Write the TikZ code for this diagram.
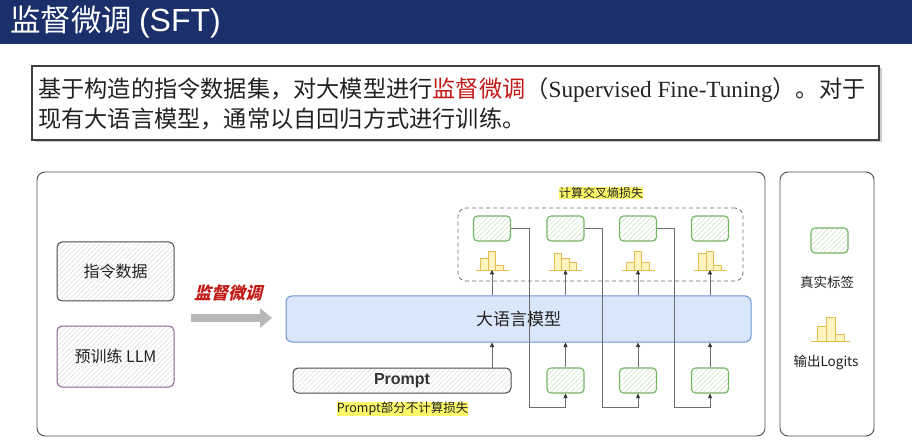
\documentclass[tikz,border=0pt]{standalone}
\usepackage{fontspec}
\setmainfont{Liberation Serif}
\newfontfamily\cjk{Noto Sans CJK SC}
\newfontfamily\cjkslant{Noto Sans CJK SC}[FakeSlant=0.25]
\newfontfamily\arialf{Liberation Sans}
\usetikzlibrary{patterns.meta,arrows.meta,shadows}
\definecolor{navy}{HTML}{1B2F6B}
\definecolor{grn}{HTML}{74B566}
\definecolor{grnhatch}{HTML}{C9DFC3}
\definecolor{hatchgray}{HTML}{DADADA}
\definecolor{purp}{HTML}{8B5E96}
\definecolor{llmfill}{HTML}{DAE7FB}
\definecolor{llmdraw}{HTML}{6E93D6}
\definecolor{yelfill}{HTML}{FFF3BF}
\definecolor{yeldraw}{HTML}{E3BE4E}
\definecolor{hl}{HTML}{FCF86A}
\definecolor{redtxt}{HTML}{C11B17}
\definecolor{wirec}{HTML}{6E6E6E}
\definecolor{txt}{HTML}{222222}
\tikzset{
  hatched/.style={pattern={Lines[angle=45,distance=3.5pt,line width=0.5pt]},pattern color=#1},
  sketchbox/.style={draw=#1,line width=1pt,rounded corners=5pt,inner sep=0pt},
  greenbox/.style={sketchbox=grn,line width=1.1pt,rounded corners=4pt,hatched=grnhatch,minimum width=37pt,minimum height=25pt},
  panel/.style={draw=black!70,line width=0.9pt,rounded corners=8pt,inner sep=0pt},
  wire/.style={draw=wirec,line width=0.7pt},
  wirearrow/.style={wire,-{Triangle[length=4.5pt,width=4pt,color=black!80]}},
  cjklabel/.style={font=\cjk\fontsize{#1}{#1}\selectfont,text=txt,inner sep=0pt},
  highlight/.style={fill=hl,inner sep=1.2pt},
  pics/histo/.style args={#1/#2/#3/#4}{code={
    \draw[draw=yeldraw,fill=yelfill,line width=0.8pt]
      (-1.5*#1,0) rectangle (-0.5*#1,-#2)
      (-0.5*#1,0) rectangle (0.5*#1,-#3)
      (0.5*#1,0) rectangle (1.5*#1,-#4);
    \draw[draw=yeldraw,line width=0.9pt] (-2.2*#1,0) -- (2.2*#1,0);
  }},
}
\begin{document}
\begin{tikzpicture}[x=1pt,y=-1pt]
\useasboundingbox (0,0) rectangle (912,443);
\fill[white] (0,0) rectangle (912,443);
% title bar
\fill[navy] (0,0) rectangle (912,44);
\node[anchor=west,text=white,font=\cjk\fontsize{30.5}{30.5}\selectfont,inner sep=0pt] (title) at (10,22) {监督微调 {\arialf\fontsize{32}{32}\selectfont(SFT)}};
% text box
\node[draw=black!75,line width=1.1pt,fill=white,minimum width=847pt,minimum height=74pt,inner sep=0pt,
      drop shadow={shadow xshift=2.5pt,shadow yshift=-2.5pt,opacity=0.4}] (textbox) at (455.5,103) {};
\node[anchor=west,inner sep=0pt,text=txt,font=\fontsize{23.2}{23.2}\selectfont] (line1) at (38,90)
  {{\cjk 基于构造的指令数据集，对大模型进行}{\cjk\color{redtxt}监督微调}{\cjk （}Supervised\ Fine-Tuning{\cjk ）。对于}};
\node[anchor=west,inner sep=0pt,text=txt,font=\cjk\fontsize{23.2}{23.2}\selectfont] (line2) at (38,119)
  {现有大语言模型，通常以自回归方式进行训练。};
% panels
\node[panel,minimum width=728pt,minimum height=264pt] (outer) at (401,304) {};
\node[panel,minimum width=94pt,minimum height=264pt] (legend) at (827,304) {};
% left boxes
\node[sketchbox=black!70,hatched=hatchgray,minimum width=117pt,minimum height=59pt,cjklabel=16] (instr) at (115.5,271.5) {指令数据};
\node[sketchbox=purp,hatched=hatchgray,minimum width=117pt,minimum height=61pt,cjklabel=16] (pre) at (115.5,356.5) {预训练 LLM};
% SFT arrow
\node[font=\cjkslant\bfseries\fontsize{17}{17}\selectfont,text=redtxt,inner sep=0pt] (sftlabel) at (228,293) {监督微调};
\coordinate (ga1) at (191,318);
\coordinate (ga2) at (272,318);
\draw[draw=black!28,line width=7pt,-{Triangle[length=12pt,width=19pt]}] (ga1) -- (ga2);
% LLM
\node[draw=llmdraw,fill=llmfill,line width=1pt,rounded corners=6pt,minimum width=465pt,minimum height=46pt,cjklabel=17] (llm) at (518.5,319) {大语言模型};
% prompt
\node[sketchbox=black!70,hatched=hatchgray,minimum width=218pt,minimum height=25pt,font=\arialf\bfseries\fontsize{16}{16}\selectfont,text=black!80] (prompt) at (402,380.5) {Prompt};
\node[highlight,cjklabel=12.5] (promptnote) at (402.5,409) {Prompt部分不计算损失};
% dashed loss box
\node[draw=black!55,dashed,dash pattern=on 4pt off 3pt,line width=0.9pt,rounded corners=8pt,minimum width=285pt,minimum height=73pt,inner sep=0pt] (lossbox) at (600.5,244.5) {};
\node[highlight,cjklabel=12] (losslabel) at (601,193) {计算交叉熵损失};
% label boxes (top)
\node[greenbox] (lab1) at (492,228.5) {};
\node[greenbox] (lab2) at (565.5,228.5) {};
\node[greenbox] (lab3) at (638,228.5) {};
\node[greenbox] (lab4) at (710,228.5) {};
% input boxes (bottom)
\node[greenbox] (in1) at (565.5,380.5) {};
\node[greenbox] (in2) at (638,380.5) {};
\node[greenbox] (in3) at (710,380.5) {};
% histograms
\coordinate (h1) at (492,270);
\coordinate (h2) at (565.5,270);
\coordinate (h3) at (638,270);
\coordinate (h4) at (710,270);
\pic at (h1) {histo={7.5/12/19/5}};
\pic at (h2) {histo={7.5/17/12/8}};
\pic at (h3) {histo={7.5/8/19/8}};
\pic at (h4) {histo={7.5/17/19/5}};
% connectors LLM -> logits
\draw[wirearrow] (llm.north -| h1) -- (h1);
\draw[wirearrow] (llm.north -| h2) -- (h2);
\draw[wirearrow] (llm.north -| h3) -- (h3);
\draw[wirearrow] (llm.north -| h4) -- (h4);
% inputs -> LLM
\draw[wirearrow] (prompt.north -| h1) -- (llm.south -| h1);
\draw[wirearrow] (in1.north) -- (llm.south -| in1);
\draw[wirearrow] (in2.north) -- (llm.south -| in2);
\draw[wirearrow] (in3.north) -- (llm.south -| in3);
% shifted labels -> next inputs
\coordinate (j1) at (529,407);
\coordinate (j2) at (602,407);
\coordinate (j3) at (674,407);
\draw[wirearrow] (lab1.east) -| (j1) -| (in1.south);
\draw[wirearrow] (lab2.east) -| (j2) -| (in2.south);
\draw[wirearrow] (lab3.east) -| (j3) -| (in3.south);
% legend
\node[greenbox] (leglab) at (829.5,240.5) {};
\node[cjklabel=13.5] (legtxt1) at (827,282) {真实标签};
\coordinate (hl) at (830.5,341);
\pic at (hl) {histo={9/15/24/7}};
\node[cjklabel=13.5] (legtxt2) at (826,362) {输出Logits};
\end{tikzpicture}
\end{document}
